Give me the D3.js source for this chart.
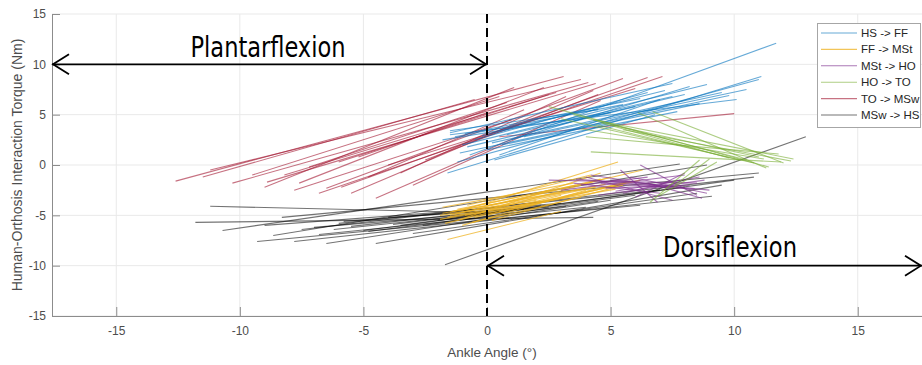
<!DOCTYPE html>
<html>
<head>
<meta charset="utf-8">
<script src="https://cdn.jsdelivr.net/npm/d3@7"></script>
<style>
  html, body { margin: 0; padding: 0; background: #fff; }
  svg { display: block; }
</style>
</head>
<body>
<svg id="chart" width="922" height="365"></svg>
<script>
// ---------------- DATA ----------------
const seriesNames = ["HS -> FF", "FF -> MSt", "MSt -> HO", "HO -> TO", "TO -> MSw", "MSw -> HS"];
const seriesColors = ["#0072BD", "#EDB120", "#7E2F8E", "#77AC30", "#A2142F", "#000000"];
const xTicks = [-15, -10, -5, 0, 5, 10, 15];
const yTicks = [-15, -10, -5, 0, 5, 10, 15];

// each segment: [angle start, torque start, angle end, torque end]
const hsFF = [
  [-0.7, 1.0, 11.7, 12.1], [-1.6, -0.8, 11.1, 8.8], [-1.2, 0.3, 11.0, 8.5], [-1.5, 3.0, 10.1, 6.5],
  [-1.0, 2.0, 8.9, 8.0], [0.0, 1.5, 7.7, 5.3], [-0.5, 2.5, 6.5, 7.2], [0.5, 1.0, 7.0, 6.5],
  [-1.3, 2.8, 5.5, 6.0], [0.2, 2.2, 9.5, 7.2], [1.0, 2.5, 8.2, 7.8], [-0.8, 1.8, 6.0, 5.8],
  [0.8, 3.0, 7.5, 6.8], [-1.5, 3.4, 4.5, 5.5], [1.5, 2.8, 10.5, 7.5], [0.3, 0.5, 6.8, 5.0],
  [-1.8, 2.5, 5.0, 5.2], [2.0, 3.5, 8.0, 7.0], [-1.5, 3.2, 7.5, 8.1], [-1.1, 1.2, 9.8, 6.9],
  [-0.9, 3.1, 6.2, 6.6], [-0.2, 2.9, 7.2, 7.4], [0.6, 2.0, 8.6, 6.1]
];
const ffMSt = [
  [-1.6, -7.4, 3.0, -4.6], [-1.0, -4.5, 5.3, 0.3], [-1.5, -5.0, 6.3, -0.5], [-1.2, -5.5, 4.6, -0.8],
  [-0.5, -5.2, 6.2, -1.5], [-1.8, -4.2, 3.5, -1.8], [-1.0, -6.0, 4.0, -2.5], [-0.3, -4.8, 5.0, -1.2],
  [-1.4, -4.6, 2.5, -2.5], [0.2, -5.5, 5.5, -2.0], [-1.7, -5.8, 3.0, -3.0], [-0.8, -4.0, 4.2, -1.0],
  [0.5, -4.6, 5.8, -1.6], [-1.9, -5.0, 2.0, -3.5], [-1.3, -4.9, 4.8, -1.9], [-0.6, -5.7, 3.8, -3.2],
  [-1.8, -4.8, 3.2, -2.6], [-1.6, -5.2, 4.4, -2.2], [-1.2, -4.4, 3.6, -2.0], [-0.9, -5.0, 5.2, -2.4],
  [-1.9, -5.4, 2.8, -3.3], [-0.4, -4.3, 4.6, -1.4], [-1.5, -4.7, 4.0, -2.3], [0.0, -5.0, 5.6, -1.8]
];
const mStHO = [
  [2.5, -1.5, 8.5, -1.8], [5.4, -0.5, 6.9, -3.7], [6.2, 0.0, 8.5, -3.0], [4.0, -1.2, 7.5, -3.5],
  [3.0, -2.5, 8.0, -1.0], [4.5, -3.0, 8.8, -1.5], [5.0, -1.5, 9.0, -2.5], [3.5, -1.8, 7.0, -2.8],
  [4.8, -2.3, 8.2, -2.0], [6.0, -3.2, 8.0, -0.8], [3.8, -2.0, 6.5, -1.2], [5.5, -2.8, 7.8, -1.5],
  [4.2, -1.0, 6.8, -2.0], [6.5, -1.8, 8.7, -3.3], [4.6, -1.8, 8.4, -2.4], [5.2, -2.6, 8.6, -1.2],
  [3.6, -1.4, 7.6, -2.2], [5.8, -1.2, 8.9, -2.8]
];
const hoTO = [
  [2.5, 5.8, 11.4, -0.2], [4.3, 4.5, 12.4, 0.6], [4.2, 1.3, 11.9, 0.3], [4.0, 2.8, 11.8, 1.1],
  [6.1, 5.2, 11.3, -0.3], [6.7, 5.3, 12.0, 0.2], [3.5, 5.0, 10.5, 0.5], [5.0, 4.0, 11.0, 0.8],
  [3.0, 4.6, 10.8, 0.2], [5.5, 3.5, 12.3, 0.4], [6.6, -3.7, 8.6, 0.5], [7.0, -3.0, 9.3, 0.3],
  [7.6, -2.0, 9.0, 0.6], [3.8, 3.6, 11.2, 0.6], [4.6, 4.2, 9.8, 0.7], [4.4, 4.0, 10.2, 0.5]
];
const toMSw = [
  [-12.6, -1.6, 3.1, 8.8], [-11.2, -0.5, 3.8, 8.5], [-10.3, -1.8, 4.1, 8.2], [-8.9, -1.7, 4.4, 8.1],
  [-9.0, -2.2, 1.1, 7.7], [-7.6, -1.8, 2.3, 7.7], [-6.5, -2.3, 5.5, 8.6], [-5.9, -2.2, 6.5, 8.7],
  [-6.8, -2.8, 7.1, 8.8], [-5.5, -2.8, 4.3, 7.4], [-4.5, -3.3, 4.6, 6.4], [0.5, 2.8, 10.0, 5.1],
  [-7.2, -0.2, 0.8, 6.2], [-6.0, 0.3, 2.5, 7.0], [-4.8, -1.2, 1.5, 5.5], [-3.5, -0.8, 3.2, 6.8],
  [-9.5, -1.0, 0.5, 6.8], [-5.2, 0.8, 0.0, 5.2], [-2.5, 0.5, 4.5, 7.0], [-11.5, -1.2, -0.5, 6.5],
  [-7.8, -2.5, 1.0, 4.5], [-3.0, -2.0, 2.0, 3.5], [-8.2, -1.0, 2.8, 7.2], [-4.0, 0.0, 6.0, 7.6]
];
const mSwHS = [
  [-1.7, -9.9, 12.9, 2.8], [-11.2, -4.1, 1.0, -4.8], [-11.8, -5.7, 4.3, -5.2], [-10.7, -6.5, 7.8, 0.1],
  [-9.3, -7.6, 6.2, -4.0], [-8.65, -7.0, 8.9, 0.0], [-7.8, -7.6, 9.1, -3.1], [-8.3, -5.2, 11.0, -0.8],
  [-7.5, -6.4, 10.8, -1.2], [-6.5, -7.8, 5.0, -3.5], [-4.5, -7.8, 9.5, -2.0], [-6.0, -5.8, 7.0, -2.5],
  [-5.0, -6.5, 6.0, -3.0], [-3.5, -6.0, 8.0, -2.2], [-2.0, -5.5, 10.0, -1.5], [-9.0, -6.0, 3.0, -3.8],
  [-6.8, -6.9, 4.0, -4.2], [-4.0, -5.2, 2.5, -4.2], [-3.0, -6.8, 8.5, -2.8],
  [-6.2, -6.4, 1.5, -4.4], [-5.5, -6.1, 2.2, -4.0], [-4.8, -6.6, 3.2, -4.1], [-7.0, -6.2, 0.8, -4.6],
  [-3.8, -5.9, 2.8, -3.9], [-5.8, -5.6, 1.2, -4.3], [-2.6, -6.0, 4.5, -3.6]
];
const seriesData = [hsFF, ffMSt, mStHO, hoTO, toMSw, mSwHS];

// annotations
const plantarLabel = "Plantarflexion";
const dorsiLabel = "Dorsiflexion";
const plantarArrow = [-17.6, 0, 10];   // x from, x to, y
const dorsiArrow = [0, 17.6, -10];

// ---------------- CHART ----------------
const svg = d3.select("#chart");
const x = d3.scaleLinear().domain([-17.6, 17.6]).range([52, 922]);
const y = d3.scaleLinear().domain([-15, 15]).range([316, 14]);
const axisColor = "#8c8c8c";
const textColor = "#4d4d4d";
const font = "'Liberation Sans', Arial, sans-serif";
const opac = [0.6, 0.75, 0.65, 0.6, 0.6, 0.55];
const drawOrder = [5, 4, 0, 1, 2, 3];

// grid
const grid = svg.append("g");
grid.selectAll("line.gx").data(xTicks).join("line")
  .attr("x1", d => x(d)).attr("x2", d => x(d))
  .attr("y1", y(-15)).attr("y2", y(15))
  .attr("stroke", "#e9e9e9").attr("stroke-width", 1);
grid.selectAll("line.gy").data(yTicks).join("line")
  .attr("x1", x(-17.6)).attr("x2", x(17.6))
  .attr("y1", d => y(d)).attr("y2", d => y(d))
  .attr("stroke", "#e9e9e9").attr("stroke-width", 1);

// axes
const gx = svg.append("g").attr("transform", `translate(0,${y(-15)})`)
  .call(d3.axisBottom(x).tickValues(xTicks)
    .tickSizeInner(-9).tickSizeOuter(0).tickPadding(10));
const gy = svg.append("g").attr("transform", `translate(${x(-17.6)},0)`)
  .call(d3.axisLeft(y).tickValues(yTicks)
    .tickSizeInner(-8).tickSizeOuter(0).tickPadding(6));
[gx, gy].forEach(g => {
  g.select(".domain").attr("stroke", axisColor);
  g.selectAll(".tick line").attr("stroke", axisColor);
  g.selectAll(".tick text").attr("fill", textColor)
    .style("font-family", font).style("font-size", "12px")
    .text(d => String(d));
});

// axis labels
svg.append("text").attr("x", 492).attr("y", 357).attr("text-anchor", "middle")
  .attr("fill", textColor).style("font-family", font).style("font-size", "13.5px")
  .text("Ankle Angle (°)");
svg.append("text").attr("transform", `translate(22,${y(0)}) rotate(-90)`)
  .attr("text-anchor", "middle").attr("fill", textColor)
  .style("font-family", font).style("font-size", "14px")
  .text("Human-Orthosis Interaction Torque (Nm)");

// series segments
const plot = svg.append("g");
drawOrder.forEach(i => {
  plot.append("g").selectAll("line").data(seriesData[i]).join("line")
    .attr("x1", d => x(d[0])).attr("y1", d => y(d[1]))
    .attr("x2", d => x(d[2])).attr("y2", d => y(d[3]))
    .attr("stroke", seriesColors[i])
    .attr("stroke-opacity", opac[i])
    .attr("stroke-width", 1.1);
});

// dashed zero line
svg.append("line").attr("x1", x(0)).attr("x2", x(0)).attr("y1", y(15)).attr("y2", y(-15))
  .attr("stroke", "#000").attr("stroke-width", 2).attr("stroke-dasharray", "9,5");

// double arrows
function doubleArrow(a) {
  const x1 = x(a[0]), x2 = x(a[1]), yy = y(a[2]);
  const g = svg.append("g").attr("stroke", "#000").attr("stroke-width", 1.8).attr("fill", "none");
  g.append("line").attr("x1", x1).attr("x2", x2).attr("y1", yy).attr("y2", yy);
  g.append("path").attr("d", `M${x1 + 17},${yy - 10} L${x1 + 1},${yy} L${x1 + 17},${yy + 10}`);
  g.append("path").attr("d", `M${x2 - 17},${yy - 10} L${x2 - 1},${yy} L${x2 - 17},${yy + 10}`);
}
doubleArrow(plantarArrow);
doubleArrow(dorsiArrow);

const annFont = "'Liberation Sans Narrow', 'DejaVu Sans Condensed', 'Liberation Sans', sans-serif";
svg.append("text").attr("x", 268).attr("y", 57).attr("text-anchor", "middle")
  .style("font-family", annFont).style("font-size", "28px").attr("fill", "#000")
  .attr("textLength", 155).attr("lengthAdjust", "spacingAndGlyphs")
  .text(plantarLabel);
svg.append("text").attr("x", 730).attr("y", 257).attr("text-anchor", "middle")
  .style("font-family", annFont).style("font-size", "28px").attr("fill", "#000")
  .attr("textLength", 134).attr("lengthAdjust", "spacingAndGlyphs")
  .text(dorsiLabel);

// legend
const lg = svg.append("g");
lg.append("rect").attr("x", 817.5).attr("y", 23.5).attr("width", 103).attr("height", 104)
  .attr("fill", "#fff").attr("stroke", "#a6a6a6").attr("stroke-width", 1);
seriesNames.forEach((name, i) => {
  const yy = 33 + i * 16.4;
  lg.append("line").attr("x1", 821).attr("x2", 857).attr("y1", yy).attr("y2", yy)
    .attr("stroke", seriesColors[i]).attr("stroke-opacity", opac[i]).attr("stroke-width", 1.1);
  lg.append("text").attr("x", 861).attr("y", yy + 4).attr("fill", "#262626")
    .style("font-family", font).style("font-size", "11.5px").text(name);
});
</script>
</body>
</html>
